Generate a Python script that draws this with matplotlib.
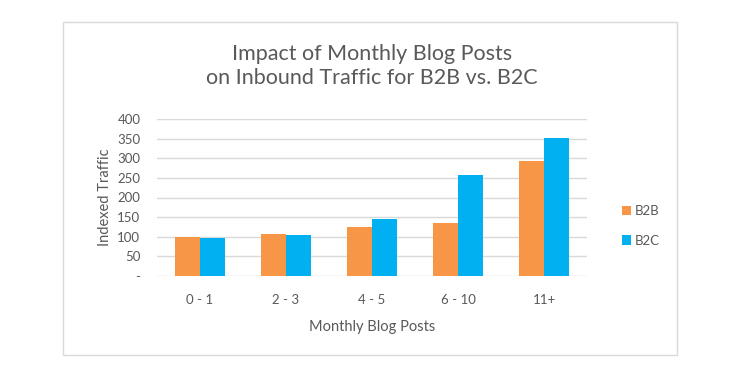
import numpy as np
import matplotlib.pyplot as plt
from matplotlib.patches import Rectangle

categories = ['0 - 1', '2 - 3', '4 - 5', '6 - 10', '11+']
b2b = [100, 106, 126, 136, 293]
b2c = [98, 104, 144, 257, 352]
yticks = [0, 50, 100, 150, 200, 250, 300, 350, 400]
ytick_labels = ['-', '50', '100', '150', '200', '250', '300', '350', '400']

plt.rcParams['font.family'] = ['Lato', 'DejaVu Sans']
text_color = '#595959'

fig = plt.figure(figsize=(7.4, 3.71), dpi=100)
fig.patches.append(Rectangle((63 / 740, 1 - 355 / 371), 614 / 740, 333 / 371,
                             transform=fig.transFigure, fill=False,
                             edgecolor='#d9d9d9', linewidth=1))

ax = fig.add_axes([157 / 740, 1 - 276 / 371, 430 / 740, 157 / 371])
x = np.arange(len(categories))
w = 0.29
ax.bar(x - w / 2, b2b, w, color='#F79646', label='B2B', zorder=3)
ax.bar(x + w / 2, b2c, w, color='#00B0F0', label='B2C', zorder=3)

ax.set_xlim(-0.5, len(categories) - 0.5)
ax.set_ylim(0, 400)
ax.set_yticks(yticks)
ax.set_yticklabels(ytick_labels)
ax.set_xticks(x)
ax.set_xticklabels(categories)
ax.grid(axis='y', color='#d9d9d9', linewidth=1, zorder=0)
for s in ax.spines.values():
    s.set_visible(False)
ax.tick_params(length=0, colors=text_color, labelsize=9.5)
ax.tick_params(axis='x', pad=13)
ax.tick_params(axis='y', pad=12)

ax.set_xlabel('Monthly Blog Posts', color=text_color, fontsize=10.5, labelpad=10)
ax.set_ylabel('Indexed Traffic', color=text_color, fontsize=10.5, labelpad=4)

fig.text(372 / 740, 1 - 66 / 371,
         'Impact of Monthly Blog Posts\non Inbound Traffic for B2B vs. B2C',
         ha='center', va='center', fontsize=15.5, color=text_color, linespacing=1.25)

fig.legend(loc='center left', bbox_to_anchor=(610 / 740, 1 - 226 / 371),
           frameon=False, fontsize=9.5, labelcolor=text_color,
           handlelength=0.7, handleheight=0.7, handletextpad=0.3, labelspacing=1.3)

fig.savefig('out.png', dpi=100, facecolor='white')
